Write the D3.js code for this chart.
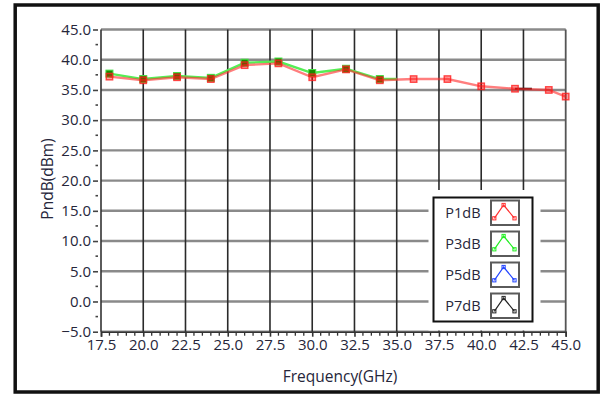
<!DOCTYPE html>
<html>
<head>
<meta charset="utf-8">
<script src="https://cdn.jsdelivr.net/npm/d3@7"></script>
<style>
  html, body { margin: 0; padding: 0; background: #fff; }
  svg { display: block; }
  text { font-family: "Open Sans", "Noto Sans", sans-serif; fill: #26263a; }
</style>
</head>
<body>
<svg id="chart" width="601" height="394"></svg>
<script>
// Frequency sweep (GHz) and compression points (dBm)
const p1Freq = [18, 20, 22, 24, 26, 28, 30, 32, 34, 36, 38, 40, 42, 44, 45];
const p1Vals = [37.2, 36.6, 37.1, 36.8, 39.1, 39.4, 37.1, 38.4, 36.6, 36.8, 36.8, 35.6, 35.2, 35.0, 33.9];
const p3Freq = [18, 20, 22, 24, 26, 28, 30, 32, 34, 35];
const p3Vals = [37.7, 36.8, 37.3, 37.0, 39.5, 39.7, 37.8, 38.5, 36.8, 36.8];
const p7Freq = [42, 43];
const p7Vals = [35.2, 35.2];

const legendNames = ["P1dB", "P3dB", "P5dB", "P7dB"];
const legendColors = ["#ff3030", "#22ee22", "#2244ff", "#222222"];

const yTicks = [-5, 0, 5, 10, 15, 20, 25, 30, 35, 40, 45];
const xTicks = [17.5, 20, 22.5, 25, 27.5, 30, 32.5, 35, 37.5, 40, 42.5, 45];

const svg = d3.select("#chart");

const x = d3.scaleLinear().domain([17.5, 45]).range([101, 565.7]);
const y = d3.scaleLinear().domain([-5, 45]).range([331.7, 29.5]);

// outer frame
svg.append("rect")
  .attr("x", 15.2).attr("y", 5).attr("width", 583).attr("height", 387)
  .attr("fill", "none").attr("stroke", "#111").attr("stroke-width", 3.5);

// horizontal grid lines
svg.append("g").selectAll("line").data(yTicks).join("line")
  .attr("x1", x(17.5)).attr("x2", x(45))
  .attr("y1", d => y(d)).attr("y2", d => y(d))
  .attr("stroke", "#8a8a8a").attr("stroke-width", 2.4);

// vertical grid lines
svg.append("g").selectAll("line").data(xTicks.slice(1, -1)).join("line")
  .attr("x1", d => x(d)).attr("x2", d => x(d))
  .attr("y1", y(45)).attr("y2", y(-5))
  .attr("stroke", "#2a2a2a").attr("stroke-width", 1.6);

// right border of plot
svg.append("line")
  .attr("x1", x(45)).attr("x2", x(45)).attr("y1", y(45)).attr("y2", y(-5))
  .attr("stroke", "#555").attr("stroke-width", 1.8);

// y axis
const yAxis = d3.axisLeft(y).tickValues(yTicks).tickFormat(d3.format(".1f"))
  .tickSize(5).tickPadding(2);
const gy = svg.append("g").attr("transform", "translate(98,0)").call(yAxis);
gy.select(".domain").remove();
gy.selectAll(".tick line").attr("stroke", "#444").attr("stroke-width", 1.6);
gy.selectAll(".tick text").style("font-size", "15px").style("font-family", "'Open Sans', sans-serif").attr("fill", "#26263a");
// minor y ticks
svg.append("g").selectAll("line").data(d3.range(-2.5, 45, 5)).join("line")
  .attr("x1", 95.5).attr("x2", 98).attr("y1", d => y(d)).attr("y2", d => y(d))
  .attr("stroke", "#444").attr("stroke-width", 1.6);
svg.append("line")
  .attr("x1", x(17.5)).attr("x2", x(17.5)).attr("y1", y(45)).attr("y2", y(-5))
  .attr("stroke", "#333").attr("stroke-width", 1.6);

// x axis
const xAxis = d3.axisBottom(x).tickValues(xTicks).tickFormat(d3.format(".1f"))
  .tickSize(5).tickPadding(3);
const gx = svg.append("g").attr("transform", `translate(0,${y(-5)})`).call(xAxis);
gx.select(".domain").attr("stroke", "#333").attr("stroke-width", 1.6);
gx.selectAll(".tick line").attr("stroke", "#333").attr("stroke-width", 1.6);
gx.selectAll(".tick text").style("font-size", "15px").style("font-family", "'Open Sans', sans-serif").attr("fill", "#26263a");
// minor x ticks
const minorX = d3.range(18, 45, 0.5).filter(v => Math.abs((v - 17.5) / 2.5 - Math.round((v - 17.5) / 2.5)) > 1e-6);
svg.append("g").selectAll("line").data(minorX).join("line")
  .attr("x1", d => x(d)).attr("x2", d => x(d))
  .attr("y1", y(-5) + 1).attr("y2", y(-5) + 4)
  .attr("stroke", "#333").attr("stroke-width", 1.3);

// axis titles
svg.append("text").attr("x", 340).attr("y", 382)
  .attr("text-anchor", "middle").style("font-size", "15.5px").text("Frequency(GHz)");
svg.append("text").attr("transform", "translate(53,179) rotate(-90)")
  .attr("text-anchor", "middle").style("font-size", "15.5px").text("PndB(dBm)");

// series
const line = d3.line().x(d => x(d[0])).y(d => y(d[1]));
const p1 = p1Freq.map((f, i) => [f, p1Vals[i]]);
const p3 = p3Freq.map((f, i) => [f, p3Vals[i]]);
const p7 = p7Freq.map((f, i) => [f, p7Vals[i]]);

svg.append("path").datum(p3).attr("d", line)
  .attr("fill", "none").attr("stroke", "#55ee55").attr("stroke-width", 2.4);
svg.append("g").selectAll("rect").data(p3.slice(0, -1)).join("rect")
  .attr("x", d => x(d[0]) - 3.5).attr("y", d => y(d[1]) - 3.5)
  .attr("width", 7).attr("height", 7).attr("fill", "#1a8a00").attr("stroke", "#44dd44").attr("stroke-width", 1);

svg.append("path").datum(p7).attr("d", line)
  .attr("fill", "none").attr("stroke", "#2a1010").attr("stroke-width", 2);

svg.append("path").datum(p1).attr("d", line)
  .attr("fill", "none").attr("stroke", "rgba(255,40,40,0.6)").attr("stroke-width", 2.4);
svg.append("g").selectAll("rect").data(p1).join("rect")
  .attr("x", d => x(d[0]) - 3.2).attr("y", d => y(d[1]) - 3.2)
  .attr("width", 6.4).attr("height", 6.4)
  .attr("fill", "rgba(255,0,0,0.38)").attr("stroke", "rgba(255,30,30,0.8)").attr("stroke-width", 1.4);

// legend
svg.append("rect").attr("x", 428.5).attr("y", 190).attr("width", 112).attr("height", 140.5).attr("fill", "#fff");
svg.append("rect").attr("x", 433.5).attr("y", 197.5).attr("width", 99).attr("height", 124)
  .attr("fill", "#fff").attr("stroke", "#111").attr("stroke-width", 2);

const lg = svg.append("g").selectAll("g").data(legendNames).join("g")
  .attr("transform", (d, i) => `translate(0,${200 + i * 31})`);
lg.append("text").attr("x", 463).attr("y", 17.5).attr("text-anchor", "middle")
  .style("font-size", "14.5px").text(d => d);
lg.append("rect").attr("x", 491).attr("y", 0.5).attr("width", 28).attr("height", 24.5)
  .attr("fill", "#fff").attr("stroke", "#5a5a5a").attr("stroke-width", 2);
const iconPts = [[494.3, 18.3], [503.6, 5], [514.5, 18.3]];
lg.append("polyline")
  .attr("points", iconPts.map(p => p.join(",")).join(" "))
  .attr("fill", "none").attr("stroke", (d, i) => legendColors[i]).attr("stroke-width", 1.2);
lg.each(function (d, i) {
  d3.select(this).selectAll("rect.m").data(iconPts).join("rect").attr("class", "m")
    .attr("x", p => p[0] - 1.6).attr("y", p => p[1] - 1.6).attr("width", 3.2).attr("height", 3.2)
    .attr("fill", "none").attr("stroke", legendColors[i]).attr("stroke-width", 1);
});
</script>
</body>
</html>
